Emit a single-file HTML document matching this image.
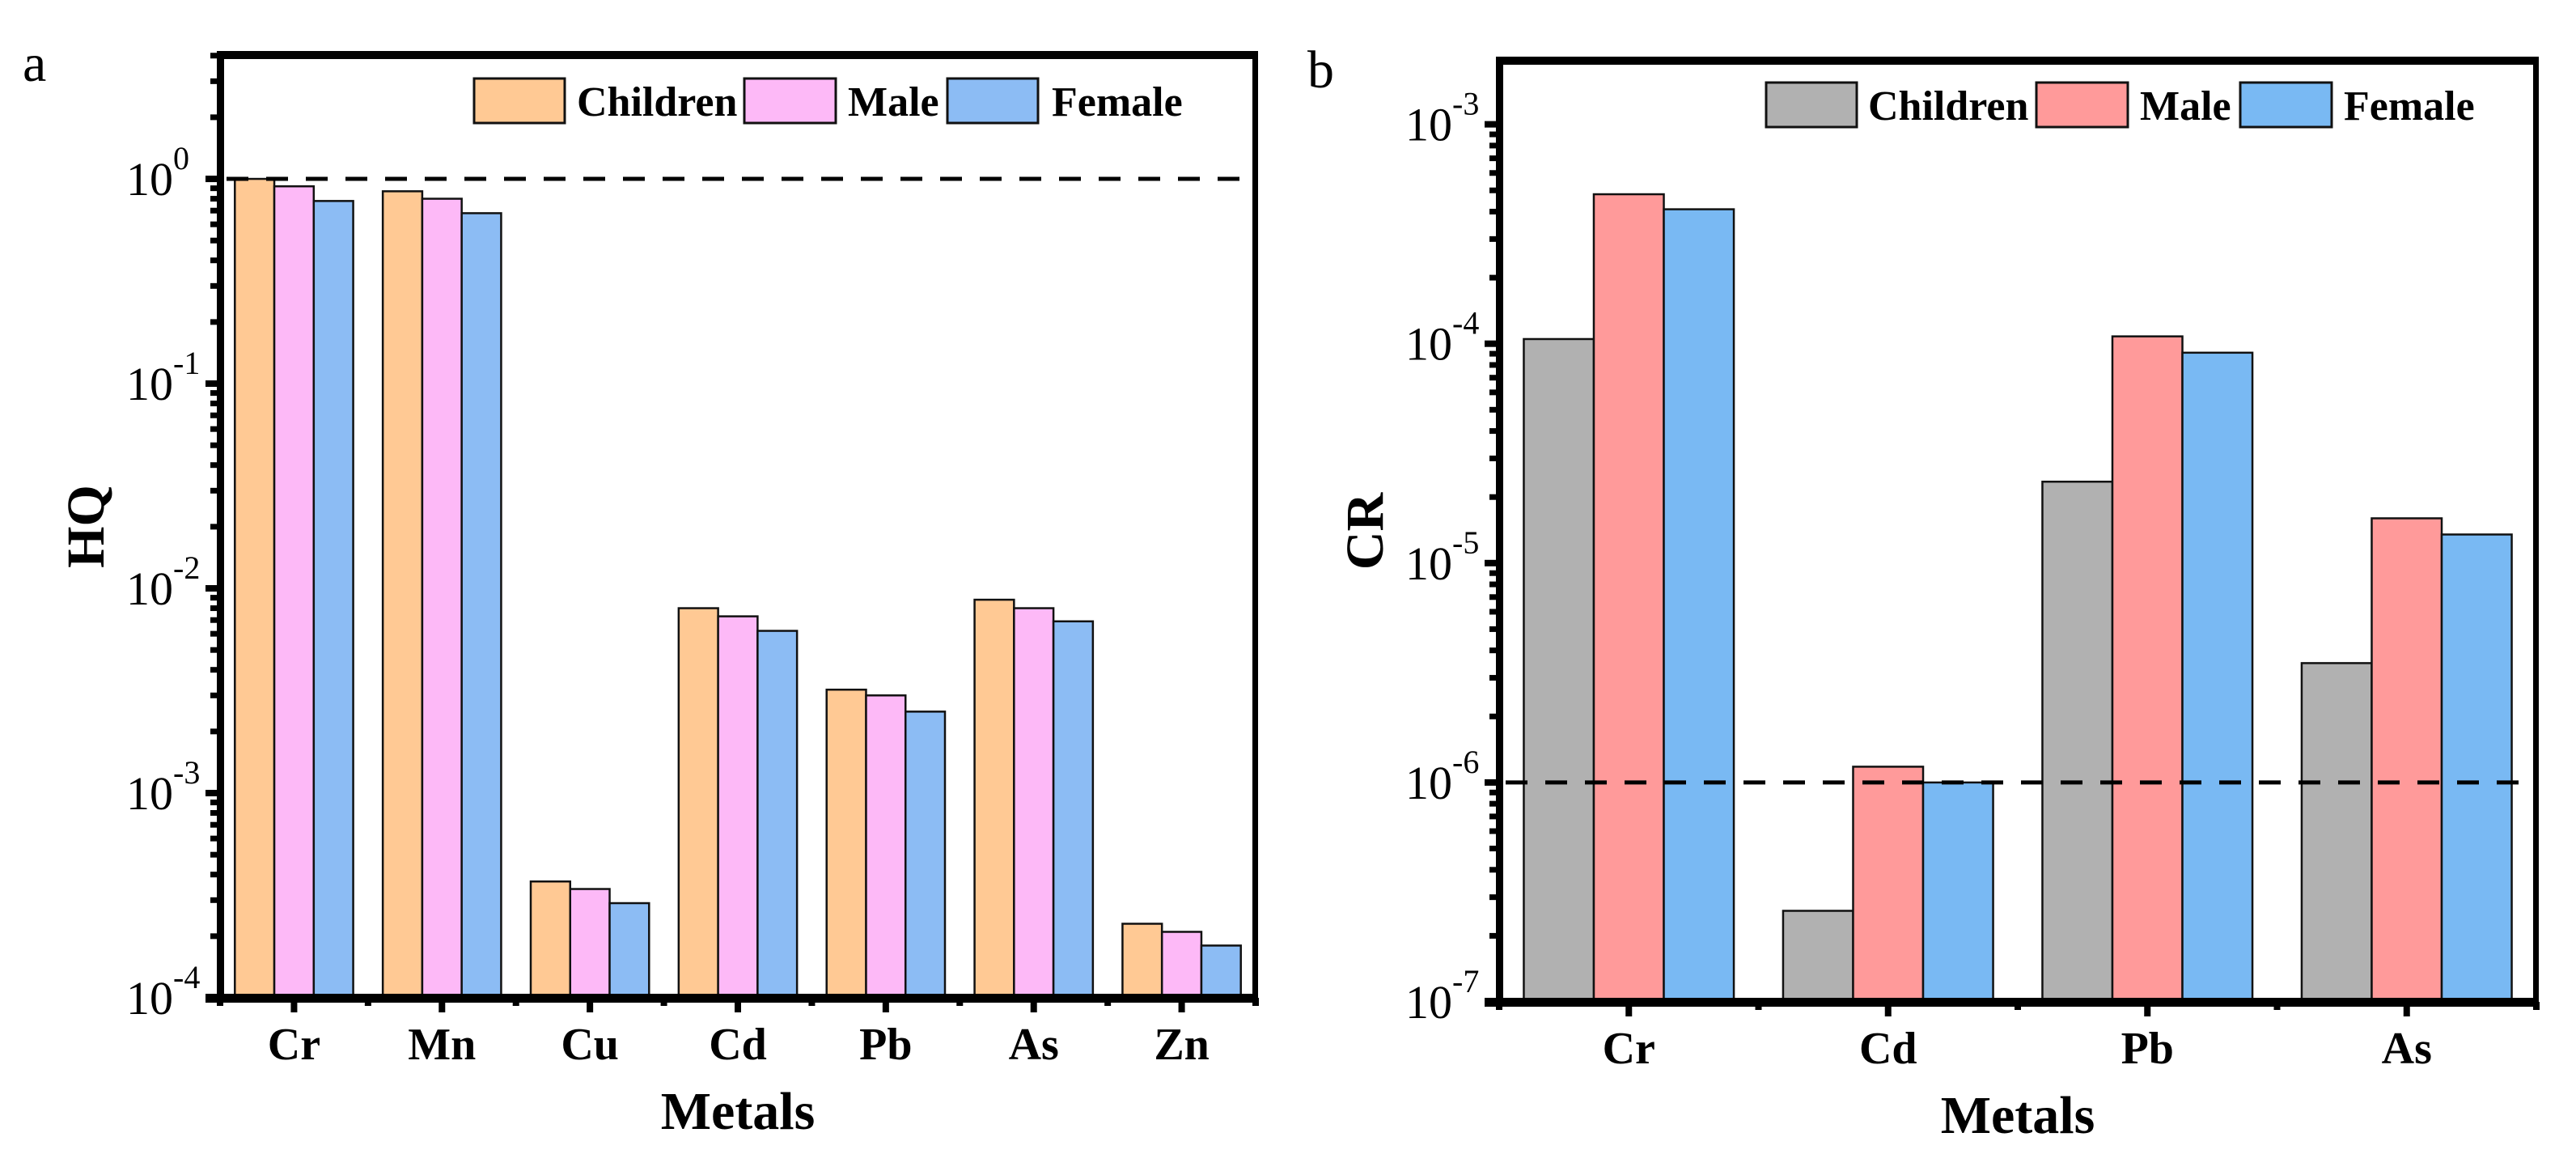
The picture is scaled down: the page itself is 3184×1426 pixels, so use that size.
<!DOCTYPE html>
<html><head><meta charset="utf-8"><style>
html,body{margin:0;padding:0;background:#fff;}
svg{display:block;font-family:"Liberation Serif",serif;}
</style></head><body>
<svg id="chart" width="3184" height="1426" viewBox="0 0 3184 1426" xmlns="http://www.w3.org/2000/svg"></svg>
<script>
// Panel a data
const catsA = ["Cr","Mn","Cu","Cd","Pb","As","Zn"];
const childrenA = [1.0, 0.87, 3.7e-4, 8.0e-3, 3.2e-3, 8.8e-3, 2.3e-4];
const maleA = [0.92, 0.80, 3.4e-4, 7.3e-3, 3.0e-3, 8.0e-3, 2.1e-4];
const femaleA = [0.78, 0.68, 2.9e-4, 6.2e-3, 2.5e-3, 6.9e-3, 1.8e-4];
const ticksA = [0,-1,-2,-3,-4];
const refA = 1;
// Panel b data
const catsB = ["Cr","Cd","Pb","As"];
const childrenB = [1.05e-4, 2.6e-7, 2.35e-5, 3.5e-6];
const maleB = [4.8e-4, 1.18e-6, 1.08e-4, 1.6e-5];
const femaleB = [4.1e-4, 1.0e-6, 9.1e-5, 1.35e-5];
const ticksB = [-3,-4,-5,-6,-7];
const refB = 1e-6;
const seriesNames = ["Children","Male","Female"];

const NS="http://www.w3.org/2000/svg";
const svg=document.getElementById("chart");
function mk(tag,attrs,parent){const e=document.createElementNS(NS,tag);for(const k in attrs)e.setAttribute(k,attrs[k]);(parent||svg).appendChild(e);return e;}

function panel(cfg){
  const g=mk("g",{});
  
  
  const {L,R,T,B,logMin,logMax,cats,series,colors,ticks,ref}=cfg;
  const n=cats.length, step=(R-L)/n;
  const x=i=>L+step*(i+0.5);
  const y=v=>B-(Math.log10(v)-logMin)/(logMax-logMin)*(B-T);
  const bw=step*cfg.groupFrac/3;
  series.forEach((s,si)=>{
    s.forEach((v,i)=>{
      const top=y(v);
      const r=mk("rect",{x:x(i)-1.5*bw+si*bw,y:top,width:bw,height:B-top,fill:colors[si],stroke:"#111","stroke-width":2.5},g);
      
      
    });
  });
  const dl=mk("line",{x1:L+8,x2:R-6,y1:y(ref),y2:y(ref),stroke:"#000","stroke-width":5,"stroke-dasharray":"27 22"},g);
  
  
  const fr=mk("g",{},g);
  
  
  mk("rect",{x:L-4,y:T-5,width:R-L+7,height:10,fill:"#000"},fr);
  mk("rect",{x:R-4,y:T-5,width:7,height:B-T+10,fill:"#000"},fr);
  mk("rect",{x:L-4,y:T-5,width:9,height:B-T+10,fill:"#000"},fr);
  mk("rect",{x:L-18,y:B-5,width:R-L+21,height:11,fill:"#000"},fr);
  for(let d=Math.floor(logMin);d<Math.ceil(logMax);d++){
    for(let m=2;m<=9;m++){
      const lv=d+Math.log10(m); if(lv<logMin||lv>logMax)continue;
      const yy=B-(lv-logMin)/(logMax-logMin)*(B-T);
      mk("rect",{x:L-12,y:yy-3.5,width:10,height:7,fill:"#000"},fr);
    }
  }
  ticks.forEach(t=>{
    const yy=B-(t-logMin)/(logMax-logMin)*(B-T);
    mk("rect",{x:L-18,y:yy-4,width:16,height:8,fill:"#000"},fr);
    const tx=mk("text",{x:L-116,y:yy+20,"font-size":58,"text-anchor":"start"},g);
    
    
    tx.textContent="10";
    const sp=mk("tspan",{dy:-32,"font-size":40},tx); sp.textContent=String(t);
  });
  cats.forEach((c,i)=>{
    mk("rect",{x:x(i)-4,y:B,width:8,height:18,fill:"#000"},fr);
    mk("rect",{x:L+step*i-4,y:B,width:8,height:10,fill:"#000"},fr);
    const tl=mk("text",{x:x(i),y:B+76,"font-size":56,"font-weight":"bold","text-anchor":"middle"},g);
    
    
    tl.textContent=c;
  });
  mk("rect",{x:R-4,y:B,width:8,height:10,fill:"#000"},fr);
  const xt=mk("text",{x:(L+R)/2,y:B+162,"font-size":66,"font-weight":"bold","text-anchor":"middle"},g);
  
  
  xt.textContent="Metals";
  const yt=mk("text",{x:0,y:0,"font-size":66,"font-weight":"bold","text-anchor":"middle",transform:`translate(${cfg.ytX},${(T+B)/2}) rotate(-90)`},g);
  
  
  yt.textContent=cfg.ytitle;
  const pl=mk("text",{x:cfg.letterX,y:cfg.letterY,"font-size":66},g);
  
  
  pl.textContent=cfg.id;
  const lg=mk("g",{},g);
  
  
  cfg.legend.forEach((le,si)=>{
    const eg=mk("g",{},lg);
    
    
    mk("rect",{x:le[0],y:cfg.legY,width:le[1]-le[0],height:55,fill:colors[si],stroke:"#111","stroke-width":3},eg);
    const t=mk("text",{x:le[2],y:cfg.legY+46,"font-size":52,"font-weight":"bold"},eg);
    t.textContent=seriesNames[si];
  });
}

panel({id:"a",L:272,R:1552,T:68,B:1233,logMin:-4,logMax:0.605,cats:catsA,
  series:[childrenA,maleA,femaleA],colors:["#FFC994","#FDB9F7","#8CBCF4"],
  ticks:ticksA,ref:refA,groupFrac:0.8,ytitle:"HQ",ytX:128,letterX:28,letterY:100,
  legY:97,legend:[[586,698,713],[920,1033,1048],[1171,1283,1300]]});
panel({id:"b",L:1853,R:3135,T:75,B:1238,logMin:-7,logMax:-2.71,cats:catsB,
  series:[childrenB,maleB,femaleB],colors:["#B1B1B1","#FF9A9A","#79B9F3"],
  ticks:ticksB,ref:refB,groupFrac:0.81,ytitle:"CR",ytX:1709,letterX:1616,letterY:108,
  legY:102,legend:[[2183,2295,2309],[2517,2630,2645],[2769,2882,2897]]});
</script>
</body></html>
